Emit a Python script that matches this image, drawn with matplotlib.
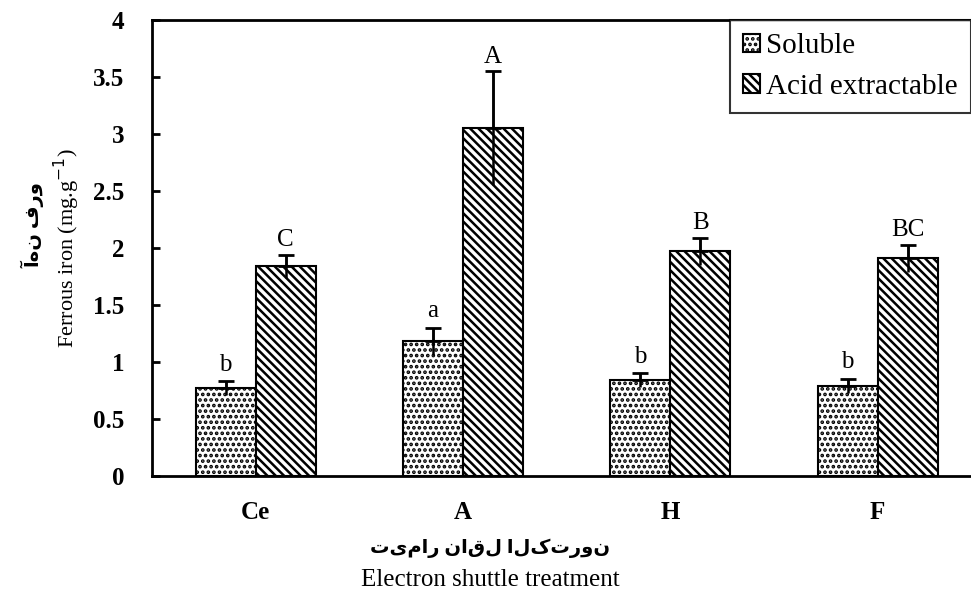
import matplotlib
matplotlib.use('Agg')
import matplotlib.pyplot as plt
import numpy as np

plt.rcParams['font.family'] = ['Liberation Serif', 'DejaVu Sans']
plt.rcParams['hatch.linewidth'] = 1.8

treatments = ['Ce', 'A', 'H', 'F']
soluble = [0.77, 1.18, 0.84, 0.79]
soluble_err = [0.06, 0.12, 0.06, 0.06]
acid = [1.84, 3.05, 1.97, 1.91]
acid_err = [0.10, 0.50, 0.12, 0.12]
soluble_letters = ['b', 'a', 'b', 'b']
acid_letters = ['C', 'A', 'B', 'BC']

fig = plt.figure(figsize=(9.71, 6.02), dpi=100)
ax = fig.add_axes([0.1565, 0.2093, 0.8435, 0.7575])

x = np.arange(len(treatments))
w = 0.29

ax.bar(x - w/2, soluble, w, color='white', edgecolor='black', linewidth=1.5,
       hatch='...', label='Soluble')
ax.bar(x + w/2, acid, w, color='white', edgecolor='black', linewidth=1.5,
       hatch='\\\\\\\\', label='Acid extractable')

# whiskers both ways, cap only on top
for xs, ys, es in [(x - w/2, soluble, soluble_err), (x + w/2, acid, acid_err)]:
    ax.errorbar(xs, ys, yerr=es, fmt='none', ecolor='black', elinewidth=1.8, capsize=0)
    ax.errorbar(xs, ys, yerr=[np.zeros(len(es)), es], fmt='none', ecolor='black',
                elinewidth=1.8, capsize=6, capthick=2)

for i in range(len(treatments)):
    ax.text(x[i] - w/2, soluble[i] + soluble_err[i] + 0.05, soluble_letters[i],
            ha='center', va='bottom', fontsize=18)
    ax.text(x[i] + w/2, acid[i] + acid_err[i] + 0.03, acid_letters[i],
            ha='center', va='bottom', fontsize=18)

ax.set_xlim(-0.5, 3.45)
ax.set_ylim(0, 4)
ax.set_yticks(np.arange(0, 4.01, 0.5))
ax.set_yticklabels(['0', '0.5', '1', '1.5', '2', '2.5', '3', '3.5', '4'])
ax.set_xticks(x)
ax.set_xticklabels(treatments, fontweight='bold')
ax.tick_params(axis='y', direction='in', length=6, width=2, labelsize=18, pad=20)
ax.tick_params(axis='x', length=0, labelsize=18, pad=18)
for lab in ax.get_yticklabels():
    lab.set_fontweight('bold')

ax.spines['right'].set_visible(False)
for s in ['left', 'bottom', 'top']:
    ax.spines[s].set_linewidth(2)

ax.set_ylabel('Ferrous iron (mg.g$^{-1}$)', fontsize=16, labelpad=8)
fig.text(33/971, 1 - 225/602, 'آهن فرو', rotation=90, ha='center', va='center',
         fontsize=14, fontweight='bold')

# two-line x label (Persian over English)
fig.text(490/971, 1 - 548/602, 'تیمار ناقل الکترون', ha='center', va='center',
         fontsize=14, fontweight='bold')
fig.text(490/971, 1 - 580/602, 'Electron shuttle treatment', ha='center', va='center',
         fontsize=18)

leg = ax.legend(loc='upper right', fontsize=21, frameon=True, fancybox=False,
                borderaxespad=0, handlelength=0.6, handleheight=0.6,
                handletextpad=0.2, borderpad=0.45, labelspacing=0.5)
leg.get_frame().set_edgecolor('black')
leg.get_frame().set_linewidth(1.5)

fig.savefig('out.png', dpi=100)
